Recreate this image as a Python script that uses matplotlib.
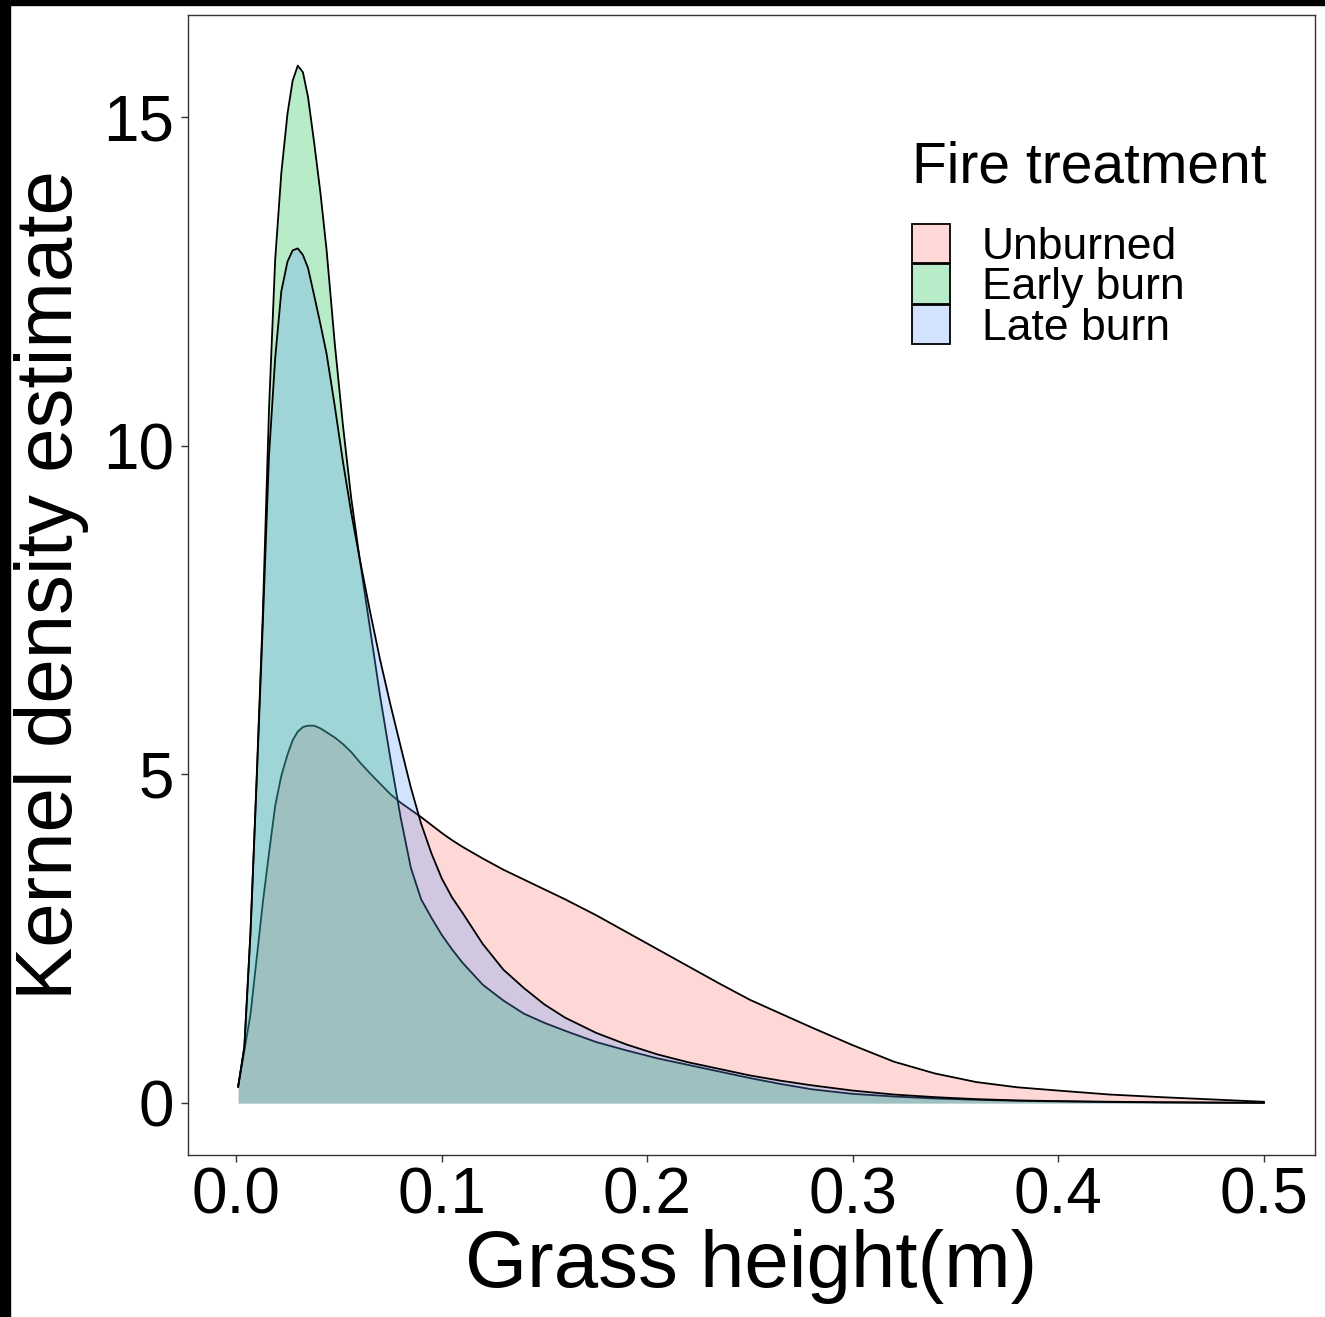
import matplotlib.pyplot as plt
from matplotlib.patches import Patch, Rectangle
from matplotlib.colors import to_rgba

plt.rcParams['font.family'] = ['Liberation Sans', 'DejaVu Sans']

# grass height (m) grid and density
height = [0.001, 0.004, 0.007, 0.010, 0.013, 0.016, 0.019, 0.022, 0.025, 0.0275,
          0.030, 0.0325, 0.035, 0.038, 0.041, 0.044, 0.048, 0.052, 0.056, 0.060,
          0.065, 0.070, 0.075, 0.080, 0.085, 0.090, 0.095, 0.100, 0.105, 0.110,
          0.120, 0.130, 0.140, 0.150, 0.160, 0.175, 0.190, 0.205, 0.220, 0.235,
          0.250, 0.265, 0.280, 0.300, 0.320, 0.340, 0.360, 0.380, 0.400, 0.425,
          0.450, 0.475, 0.500]

unburned = [0.25, 0.80, 1.35, 2.20, 3.05, 3.80, 4.52, 4.98, 5.30, 5.52,
            5.65, 5.72, 5.74, 5.74, 5.70, 5.64, 5.56, 5.46, 5.34, 5.19,
            5.02, 4.86, 4.70, 4.57, 4.46, 4.35, 4.23, 4.11, 4.00, 3.90,
            3.72, 3.55, 3.40, 3.25, 3.10, 2.86, 2.60, 2.34, 2.08, 1.82,
            1.57, 1.36, 1.15, 0.88, 0.63, 0.45, 0.32, 0.24, 0.19, 0.13,
            0.09, 0.055, 0.02]

early_burn = [0.25, 0.85, 2.60, 4.95, 7.45, 10.55, 12.83, 14.15, 15.05, 15.55,
              15.78, 15.68, 15.30, 14.60, 13.85, 12.98, 11.55, 10.30, 9.20, 8.30,
              7.25, 6.20, 5.25, 4.35, 3.58, 3.10, 2.82, 2.56, 2.34, 2.14,
              1.80, 1.56, 1.36, 1.22, 1.10, 0.93, 0.80, 0.68, 0.58, 0.48,
              0.38, 0.29, 0.21, 0.14, 0.10, 0.07, 0.05, 0.035, 0.025, 0.015,
              0.01, 0.006, 0.004]

late_burn = [0.25, 0.85, 2.60, 4.90, 7.30, 9.85, 11.33, 12.35, 12.80, 12.97,
             13.00, 12.90, 12.70, 12.28, 11.85, 11.40, 10.60, 9.75, 8.98, 8.30,
             7.50, 6.75, 6.07, 5.43, 4.80, 4.25, 3.80, 3.42, 3.13, 2.90,
             2.42, 2.03, 1.75, 1.50, 1.30, 1.07, 0.89, 0.74, 0.62, 0.52,
             0.42, 0.34, 0.27, 0.19, 0.13, 0.09, 0.06, 0.04, 0.03, 0.02,
             0.012, 0.008, 0.005]

groups = ['Unburned', 'Early burn', 'Late burn']
fill_colors = ['#F8766D', '#00BA38', '#619CFF']

fig = plt.figure(figsize=(13.25, 13.17), dpi=100)
ax = fig.add_axes([0.1419, 0.1230, 0.8506, 0.8656])

# ggplot-like density layers: fill + upper outline, later groups drawn over earlier ones
for i, (dens, col) in enumerate(zip([unburned, early_burn, late_burn], fill_colors)):
    ax.fill_between(height, dens, color=to_rgba(col, 0.28), lw=0, zorder=2 + i)
    ax.plot(height, dens, color='black', lw=1.3, zorder=2 + i, solid_joinstyle='round')

ax.set_xlim(-0.0234, 0.5249)
ax.set_ylim(-0.79, 16.55)
ax.set_xticks([0.0, 0.1, 0.2, 0.3, 0.4, 0.5])
ax.set_xticklabels(['0.0', '0.1', '0.2', '0.3', '0.4', '0.5'])
ax.set_yticks([0, 5, 10, 15])

for sp in ax.spines.values():
    sp.set_color('#333333')
    sp.set_linewidth(1.0)
ax.tick_params(labelsize=46, length=5, width=1, color='#333333', labelcolor='black')
ax.tick_params(axis='x', pad=3)
ax.tick_params(axis='y', pad=5)

ax.set_xlabel('Grass height(m)', fontsize=57.5, labelpad=2)
ax.set_ylabel('Kernel density estimate', fontsize=57.5, labelpad=10)

handles = [Patch(facecolor=to_rgba(c, 0.28), edgecolor='black', linewidth=1.3) for c in fill_colors]
leg = ax.legend(handles, groups, title='Fire treatment', loc='upper left',
                bbox_to_anchor=(0.642, 0.89), frameon=False, fontsize=32,
                title_fontsize=41, handlelength=0.86, handleheight=1.0,
                handletextpad=0.72, labelspacing=-0.08, borderpad=0,
                borderaxespad=0, alignment='left')
leg._legend_box.sep = 21  # gap between legend title and keys

# black edges of the original screenshot
fig.patches.append(Rectangle((0, 1 - 5 / 1317), 1, 5 / 1317, transform=fig.transFigure,
                             color='black', zorder=10))
fig.patches.append(Rectangle((0, 0), 10 / 1325, 1, transform=fig.transFigure,
                             color='black', zorder=10))

fig.savefig('out.png', dpi=100)
